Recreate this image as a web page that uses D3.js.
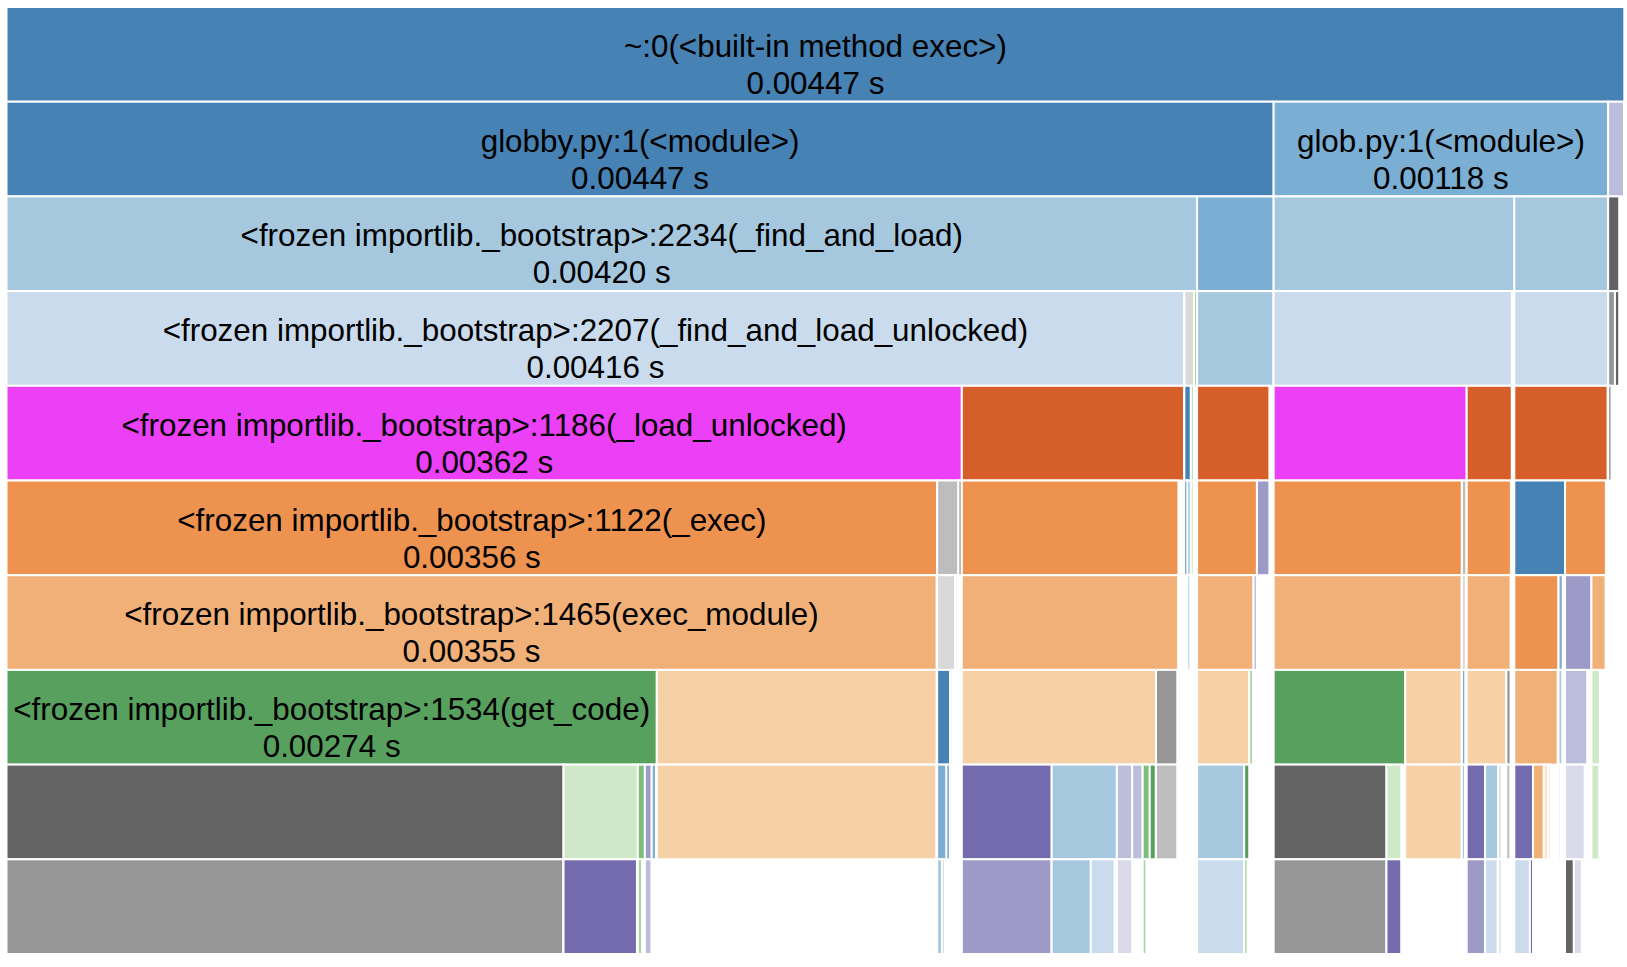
<!DOCTYPE html>
<html>
<head>
<meta charset="utf-8">
<script src="https://cdn.jsdelivr.net/npm/d3@7"></script>
<style>
  html, body { margin: 0; padding: 0; background: #fff; }
  svg { display: block; }
</style>
</head>
<body>
<svg id="chart" width="1627" height="967"></svg>
<script>
// ---- data: call tree (id, parent id, cumulative time in seconds used for width) ----
const rowRoot = [["root", "", 0.005707]];
const row1 = [["globby", "root", 0.004470], ["glob", "root", 0.001180], ["r1", "root", 0.000056]];
const row2 = [["fal1", "globby", 0.004200], ["b2", "globby", 0.000270], ["g2a", "glob", 0.000849], ["g2b", "glob", 0.000331], ["r2", "r1", 0.000039]];
const row3 = [["falu1", "fal1", 0.004155], ["g3a", "fal1", 0.000034], ["g3b", "fal1", 0.000011], ["b3", "b2", 0.000269],
  ["g3c", "g2a", 0.000840], ["g3d", "g2b", 0.000331], ["r3a", "r2", 0.000024], ["r3b", "r2", 0.000015]];
const row4 = [["lu1", "falu1", 0.003370], ["fs1", "falu1", 0.000784], ["b4", "g3a", 0.000023], ["g4", "g3a", 0.000010],
  ["fs2", "b3", 0.000255], ["lu2", "g3c", 0.000681], ["fs3", "g3c", 0.000159], ["fs4", "g3d", 0.000329], ["r4", "r3a", 0.000012]];
const row5 = [["ex1", "lu1", 0.003283], ["gy5a", "lu1", 0.000075], ["gy5b", "lu1", 0.000012], ["o5", "fs1", 0.000764],
  ["b5a", "b4", 0.000011], ["b5b", "b4", 0.000011], ["g5", "g4", 0.000009], ["o5b", "fs2", 0.000211], ["lv5", "fs2", 0.000044],
  ["ex2", "lu2", 0.000664], ["gy5c", "lu2", 0.000016], ["o5c", "fs3", 0.000156], ["bl5", "fs4", 0.000179], ["o5d", "fs4", 0.000144]];
const row6 = [["em1", "ex1", 0.003281], ["gy6a", "gy5a", 0.000064], ["gy6b", "gy5a", 0.000008], ["o6", "o5", 0.000763],
  ["b6", "b5b", 0.000010], ["o6b", "o5b", 0.000199], ["lv6", "o5b", 0.000012], ["em2", "ex2", 0.000663], ["gy6c", "gy5c", 0.000014],
  ["o6c", "o5c", 0.000155], ["o6d", "bl5", 0.000156], ["b6d", "bl5", 0.000015], ["lv6d", "o5d", 0.000093], ["o6e", "o5d", 0.000050]];
const row7 = [["gc1", "em1", 0.002294], ["pc1", "em1", 0.000987], ["bl7", "gy6a", 0.000046], ["gy7f", "gy6a", 0.000008],
  ["pc2", "o6", 0.000685], ["gy7", "o6", 0.000075], ["pc3", "o6b", 0.000184], ["gr7", "o6b", 0.000013], ["gc2", "em2", 0.000464],
  ["pc4", "em2", 0.000199], ["bt7", "gy6c", 0.000012], ["pc5", "o6c", 0.000140], ["gy7b", "o6c", 0.000015], ["lo7", "o6d", 0.000153],
  ["bt7b", "b6d", 0.000013], ["lv7", "lv6d", 0.000078], ["lg7", "o6e", 0.000030]];
const row8 = [["dg1", "gc1", 0.001965], ["lg8", "gc1", 0.000262], ["gr8", "gc1", 0.000025], ["lv8", "gc1", 0.000024], ["bt8", "gc1", 0.000015],
  ["pc8", "pc1", 0.000986], ["lb8", "bl7", 0.000033], ["bt8b", "bl7", 0.000011], ["pu8", "pc2", 0.000317], ["lb8b", "pc2", 0.000230],
  ["lv8a", "pc2", 0.000054], ["lv8b", "pc2", 0.000037], ["gr8b", "pc2", 0.000025], ["dgr8", "pc2", 0.000021], ["gy8", "gy7", 0.000075],
  ["lb8c", "pc3", 0.000166], ["gr8c", "pc3", 0.000018], ["dg2", "gc2", 0.000398], ["lg8b", "gc2", 0.000052], ["pc8b", "pc4", 0.000199],
  ["bt8c", "bt7", 0.000011], ["pu8b", "pc5", 0.000065], ["lb8d", "pc5", 0.000046], ["lv8c", "pc5", 0.000012], ["gy8b", "gy7b", 0.000014],
  ["pu8c", "lo7", 0.000066], ["o8", "lo7", 0.000038], ["pe8a", "lo7", 0.000016], ["pe8b", "lo7", 0.000009], ["bt8d", "bt7b", 0.000008],
  ["lv8d", "lv7", 0.000069], ["lg8c", "lg7", 0.000028]];
const row9 = [["gy9", "dg1", 0.001964], ["pu9", "lg8", 0.000259], ["gr9", "gr8", 0.000015], ["lv9", "lv8", 0.000023],
  ["lb9", "lb8", 0.000017], ["gy9b", "lb8", 0.000009], ["lpu9", "pu8", 0.000316], ["lb9b", "lb8b", 0.000138], ["vlb9", "lb8b", 0.000084],
  ["vl9", "lv8a", 0.000054], ["gr9b", "gr8b", 0.000013], ["vlb9b", "lb8c", 0.000166], ["gr9c", "gr8c", 0.000012], ["gy9c", "dg2", 0.000398],
  ["pu9b", "lg8b", 0.000052], ["lpu9b", "pu8b", 0.000065], ["vlb9c", "lb8d", 0.000044], ["vl9c", "lv8c", 0.000012],
  ["vlb9d", "pu8c", 0.000055], ["pu9c", "pu8c", 0.000011], ["dg9", "lv8d", 0.000031], ["vl9b", "lv8d", 0.000028]];

// ---- labels (function names and their displayed cumulative times) ----
const labelNames = {
  root: "~:0(<built-in method exec>)", globby: "globby.py:1(<module>)", glob: "glob.py:1(<module>)",
  fal1: "<frozen importlib._bootstrap>:2234(_find_and_load)",
  falu1: "<frozen importlib._bootstrap>:2207(_find_and_load_unlocked)",
  lu1: "<frozen importlib._bootstrap>:1186(_load_unlocked)",
  ex1: "<frozen importlib._bootstrap>:1122(_exec)",
  em1: "<frozen importlib._bootstrap>:1465(exec_module)",
  gc1: "<frozen importlib._bootstrap>:1534(get_code)"
};
const labelTimes = {
  root: "0.00447", globby: "0.00447", glob: "0.00118", fal1: "0.00420", falu1: "0.00416",
  lu1: "0.00362", ex1: "0.00356", em1: "0.00355", gc1: "0.00274"
};

// ---- styles ----
const palette = {
  steel: "#4682b4", blue2: "#7aaed3", blue3: "#a6c8df", blue4: "#c9dbec",
  magenta: "#eb40f5", ored: "#d65e28", orange: "#ee924f", lorange: "#f1b077", peach: "#f6d1a8",
  green: "#57a05e", green2: "#7cbf78", green3: "#a1d99b", green4: "#cfe8c8",
  purple: "#736bad", lav: "#9e9ac7", lav2: "#bcbddc", lav3: "#dadaeb",
  dgray: "#636363", gray: "#969696", lgray: "#bdbdbd", vlgray: "#d9d9d9",
  faint: "#ececec", fpeach: "#fae3cd", fblue: "#dbe7f2"
};
const nodeColor = {
  root: "steel", globby: "steel", glob: "blue2", r1: "lav2",
  fal1: "blue3", b2: "blue2", g2a: "blue3", g2b: "blue3", r2: "dgray",
  falu1: "blue4", g3a: "vlgray", g3b: "green3", b3: "blue3", g3c: "blue4", g3d: "blue4", r3a: "gray", r3b: "dgray",
  lu1: "magenta", fs1: "ored", b4: "steel", g4: "green3", fs2: "ored", lu2: "magenta", fs3: "ored", fs4: "ored", r4: "gray",
  ex1: "orange", gy5a: "lgray", gy5b: "gray", o5: "orange", b5a: "steel", b5b: "blue2", g5: "green3", o5b: "orange", lv5: "lav",
  ex2: "orange", gy5c: "lgray", o5c: "orange", bl5: "steel", o5d: "orange",
  em1: "lorange", gy6a: "vlgray", gy6b: "faint", o6: "lorange", b6: "blue3", o6b: "lorange", lv6: "lav2", em2: "lorange",
  gy6c: "vlgray", o6c: "lorange", o6d: "orange", b6d: "blue2", lv6d: "lav", o6e: "lorange",
  gc1: "green", pc1: "peach", bl7: "steel", gy7f: "faint", pc2: "peach", gy7: "gray", pc3: "peach", gr7: "green3",
  gc2: "green", pc4: "peach", bt7: "blue2", pc5: "peach", gy7b: "gray", lo7: "lorange", bt7b: "blue3", lv7: "lav2", lg7: "green4",
  dg1: "dgray", lg8: "green4", gr8: "green2", lv8: "lav", bt8: "blue2", pc8: "peach", lb8: "blue2", bt8b: "steel",
  pu8: "purple", lb8b: "blue3", lv8a: "lav2", lv8b: "lav2", gr8b: "green2", dgr8: "green", gy8: "lgray", lb8c: "blue3", gr8c: "green",
  dg2: "dgray", lg8b: "green4", pc8b: "peach", bt8c: "blue3", pu8b: "purple", lb8d: "blue3", lv8c: "lav3", gy8b: "lgray",
  pu8c: "purple", o8: "lorange", pe8a: "fpeach", pe8b: "fpeach", bt8d: "fblue", lv8d: "lav3", lg8c: "green4",
  gy9: "gray", pu9: "purple", gr9: "green3", lv9: "lav2", lb9: "blue3", gy9b: "lgray", lpu9: "lav", lb9b: "blue3", vlb9: "blue4",
  vl9: "lav3", gr9b: "green3", vlb9b: "blue4", gr9c: "green3", gy9c: "gray", pu9b: "purple", lpu9b: "lav", vlb9c: "blue4",
  vl9c: "lav3", vlb9d: "blue4", pu9c: "purple", dg9: "dgray", vl9b: "lav3"
};

// ---- layout ----
const LEFT = 6.5, RIGHT = 1624.3, TOP = 7, ROW_H = 94.7;
const table = [].concat(rowRoot, row1, row2, row3, row4, row5, row6, row7, row8, row9)
  .map(([id, parent, t]) => ({ id, parent, t }));
const root = d3.stratify().id(d => d.id).parentId(d => d.parent || null)(table);
root.each(n => {
  const kids = n.children ? d3.sum(n.children, c => c.data.t) : 0;
  n.data.self = Math.max(0, n.data.t - kids);
});
root.sum(d => d.self);
const depth = root.height + 1;
d3.partition().size([root.value, depth]).padding(0)(root);

const xs = d3.scaleLinear().domain([0, root.value]).range([LEFT, RIGHT]);
const ys = d3.scaleLinear().domain([0, depth]).range([TOP, TOP + ROW_H * depth]);

const svg = d3.select("#chart");
const g = svg.selectAll("g.node").data(root.descendants()).join("g").attr("class", "node");

g.append("rect")
  .attr("x", d => xs(d.x0))
  .attr("y", d => ys(d.y0))
  .attr("width", d => Math.max(0, xs(d.x1) - xs(d.x0)))
  .attr("height", d => ys(d.y1) - ys(d.y0))
  .attr("fill", d => palette[nodeColor[d.id]] || "#ccc")
  .attr("stroke", "#fff")
  .attr("stroke-width", 2);

const labeled = g.filter(d => labelNames[d.id]);
const txt = labeled.append("text")
  .attr("text-anchor", "middle")
  .attr("font-family", "'Liberation Sans', Arial, Helvetica, sans-serif")
  .attr("font-size", 31.4)
  .attr("fill", "#000");
txt.append("tspan")
  .attr("x", d => (xs(d.x0) + xs(d.x1)) / 2)
  .attr("y", d => ys(d.y0) + 50)
  .text(d => labelNames[d.id]);
txt.append("tspan")
  .attr("x", d => (xs(d.x0) + xs(d.x1)) / 2)
  .attr("y", d => ys(d.y0) + 87)
  .text(d => labelTimes[d.id] + " s");
txt.each(function(d) {
  const w = xs(d.x1) - xs(d.x0);
  if (this.getBBox().width > w) d3.select(this).remove();
});
</script>
</body>
</html>
